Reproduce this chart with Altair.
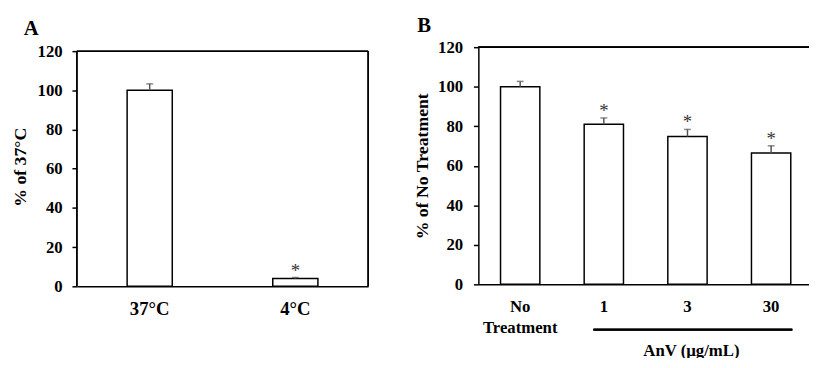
import altair as alt
import pandas as pd

# Panel A data
a_cats = ["37°C", "4°C"]
a_vals = [100.0, 4.0]
a_errs = [3.3, 0.5]
a_sig = ["", "*"]

# Panel B data
b_cats = ["No Treatment", "1", "3", "30"]
b_vals = [100.0, 81.0, 74.8, 66.5]
b_errs = [2.7, 3.2, 3.6, 3.6]
b_sig = ["", "*", "*", "*"]

y_ticks = [0, 20, 40, 60, 80, 100, 120]

FONT = "Liberation Serif"

dfa = pd.DataFrame({"cat": a_cats, "val": a_vals, "err": a_errs, "sig": a_sig})
dfa["upper"] = dfa["val"] + dfa["err"]
dfb = pd.DataFrame({"cat": b_cats, "val": b_vals, "err": b_errs, "sig": b_sig})
dfb["upper"] = dfb["val"] + dfb["err"]


def layers(df, cats, ytitle, pin, ymax, ydomain_line, xlabel_size, xlabel_pad,
           ylabel_pad, ytitle_x, xaxis_extra):
    xscale = alt.Scale(domain=cats, paddingInner=pin, paddingOuter=pin / 2)
    yscale = alt.Scale(domain=[0, ymax], nice=False)
    xaxis = alt.Axis(
        labelAngle=0, ticks=False, tickSize=0, domain=True, domainColor="black",
        domainWidth=1.5, labelFont=FONT, labelFontWeight="bold",
        labelFontSize=xlabel_size, labelColor="black", labelPadding=xlabel_pad,
        labelLineHeight=21,
        labelExpr="datum.label == 'No Treatment' ? ['No', 'Treatment'] : datum.label",
        **xaxis_extra
    )
    yaxis = alt.Axis(
        title=ytitle, values=y_ticks, grid=False, ticks=True, tickSize=5,
        tickColor="black", tickWidth=1.5, domain=ydomain_line,
        domainColor="black", domainWidth=1.5,
        labelFont=FONT, labelFontWeight="bold", labelFontSize=17,
        labelColor="black", labelPadding=ylabel_pad, labelOverlap=False,
        titleFont=FONT, titleFontWeight="bold", titleFontSize=18,
        titleColor="black", titleX=ytitle_x, titleBaseline="middle",
    )
    X = alt.X("cat:N", scale=xscale, axis=xaxis, sort=cats)
    base = alt.Chart(df)
    bars = base.mark_bar(fill="white", stroke="black", strokeWidth=1.5).encode(
        x=X, y=alt.Y("val:Q", scale=yscale, axis=yaxis),
    )
    err = base.mark_rule(color="#555555", strokeWidth=1.5).encode(
        x=X, y=alt.Y("val:Q", scale=yscale, axis=yaxis), y2="upper:Q"
    )
    cap = base.mark_tick(color="#555555", thickness=1.5, size=7).encode(
        x=X, y=alt.Y("upper:Q", scale=yscale, axis=yaxis)
    )
    star = base.mark_text(font=FONT, fontSize=19, color="#333333",
                          baseline="alphabetic", dy=-1).encode(
        x=X, y=alt.Y("upper:Q", scale=yscale, axis=yaxis), text="sig:N"
    )
    return [bars, err, cap, star]


A_W, A_H = 296, 243     # frame occupies the lower 239 px
A_TOP = 4
B_W, B_H = 340, 241

# Panel A frame (left, top, right edges)
frame_style = dict(color="black", strokeWidth=1.5)
a_left = alt.Chart(dfa).mark_rule(**frame_style).encode(
    x=alt.value(0), y=alt.value(A_TOP), y2=alt.value(A_H))
a_top = alt.Chart(dfa).mark_rule(**frame_style).encode(
    x=alt.value(0), x2=alt.value(A_W), y=alt.value(A_TOP))
a_right = alt.Chart(dfa).mark_rule(**frame_style).encode(
    x=alt.value(A_W), y=alt.value(A_TOP), y2=alt.value(A_H))

chart_a = alt.layer(
    *layers(dfa, a_cats, "% of  37°C", 0.69, 120 * A_H / (A_H - A_TOP), False,
            19, 14, 10, -57, {"title": None}),
    a_left, a_top, a_right
).properties(
    width=A_W, height=A_H,
    view=alt.ViewBackground(stroke=None),
    title=alt.TitleParams("A", anchor="start", frame="group", dx=-54, offset=3,
                          font=FONT, fontSize=21, fontWeight="bold", color="black"),
)

b_xaxis = {"title": "AnV (µg/mL)", "titleFont": FONT, "titleFontWeight": "bold",
           "titleFontSize": 17, "titleColor": "black", "titleX": 216,
           "titleY": 72, "titleAlign": "center", "titleBaseline": "alphabetic"}
topline = alt.Chart(dfb).mark_rule(color="black", strokeWidth=1.5).encode(
    x=alt.value(0), x2=alt.value(B_W), y=alt.value(0)
)
anvline = alt.Chart(dfb).mark_rule(color="black", strokeWidth=2).encode(
    x=alt.value(117), x2=alt.value(319), y=alt.value(B_H + 46)
)
chart_b = alt.layer(
    *layers(dfb, b_cats, "% of No Treatment", 0.53, 120, True,
            17, 15, 11, -56.5, b_xaxis),
    topline, anvline
).properties(
    width=B_W, height=B_H,
    view=alt.ViewBackground(stroke=None),
    title=alt.TitleParams("B", anchor="start", frame="group", dx=-62, offset=2,
                          font=FONT, fontSize=21, fontWeight="bold", color="black"),
)

chart = alt.hconcat(chart_a, chart_b, spacing=45).properties(
    padding={"left": 4, "top": 5, "right": -5, "bottom": -3}
).configure(background="white")

chart.save("out.html", embed_options={"renderer": "svg", "actions": False})
